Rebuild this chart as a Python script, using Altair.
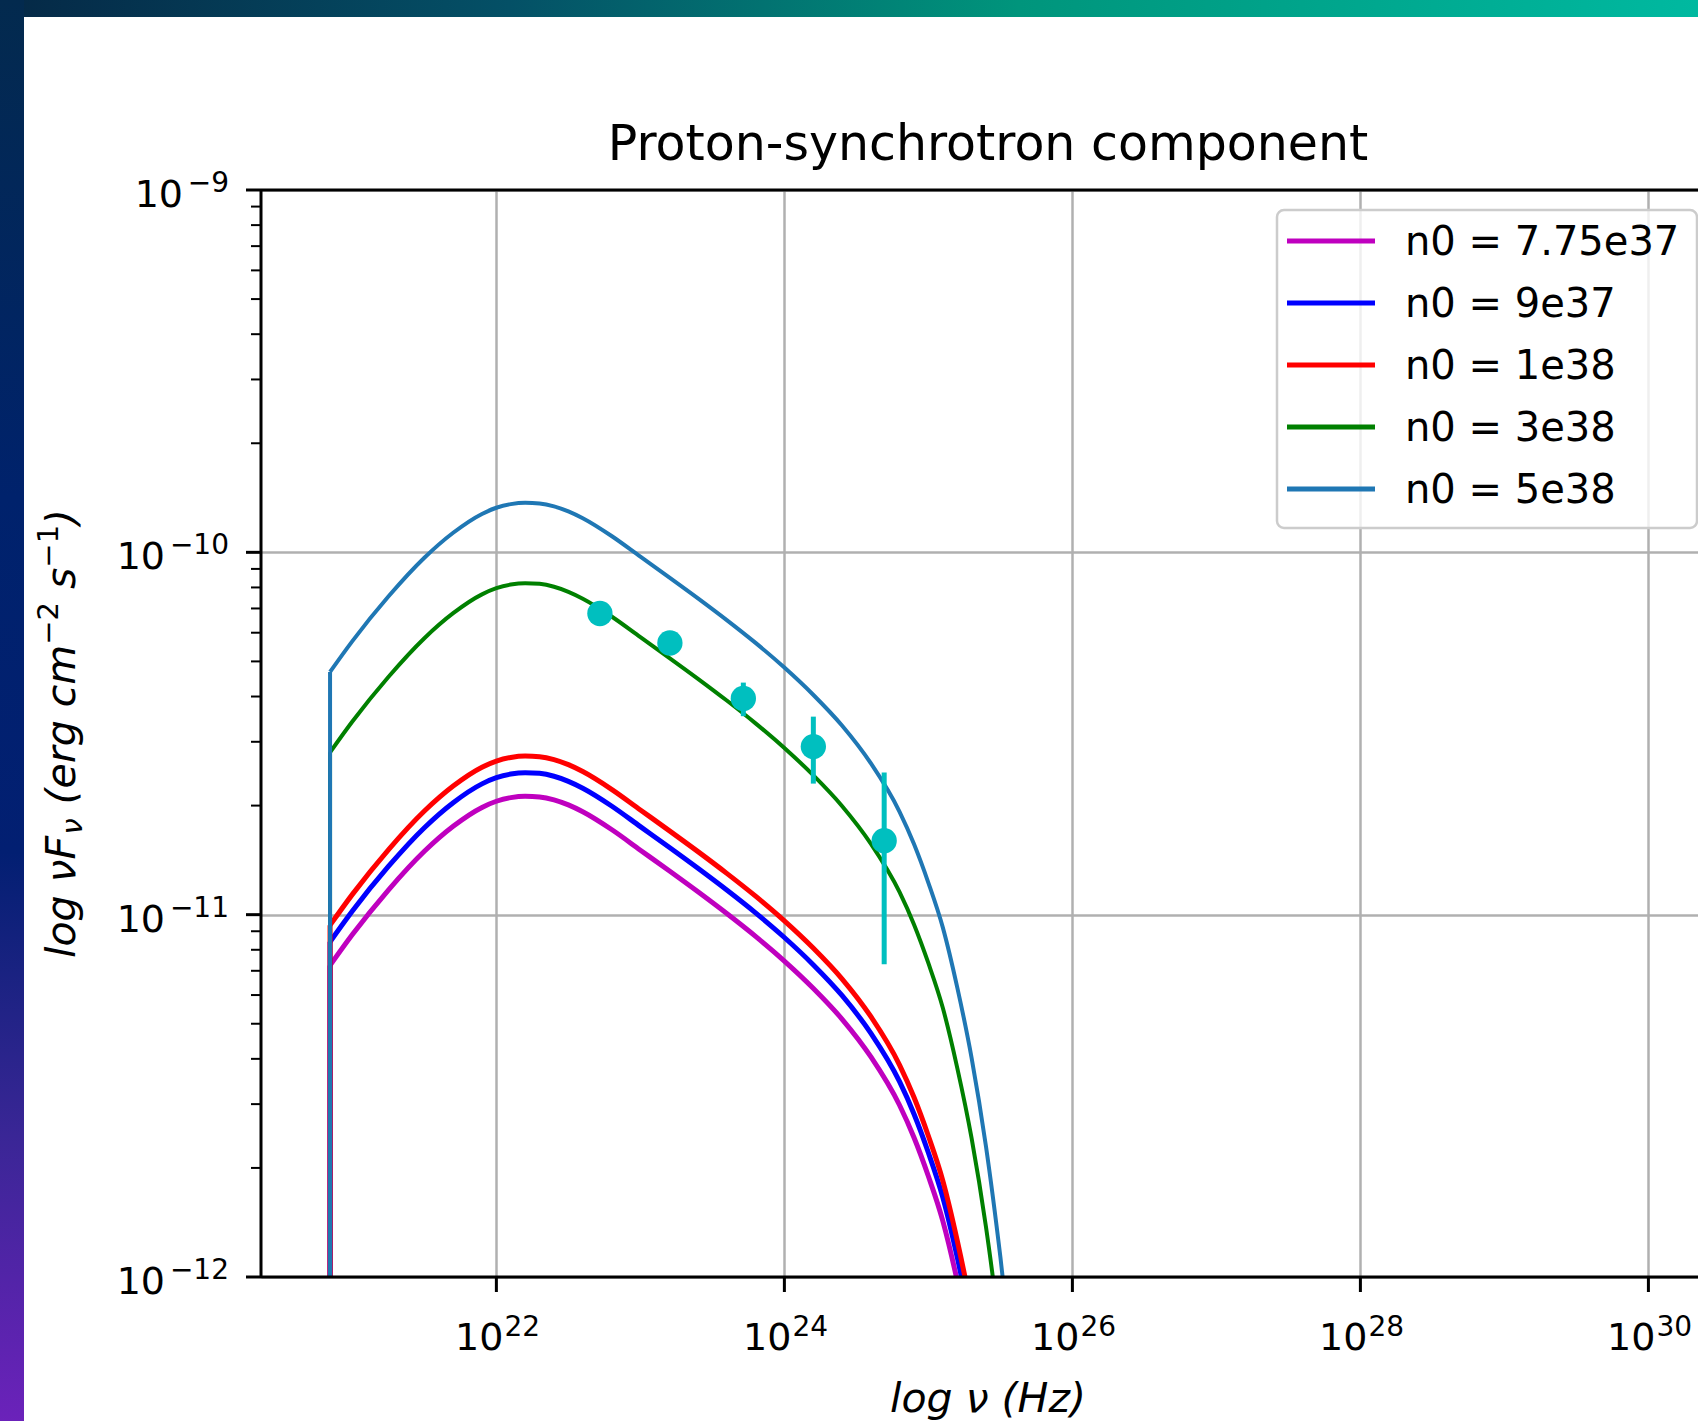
import altair as alt
import pandas as pd

# ---------------- data (as log10 values on the log axes) ----------------
log_nu = [20.845, 21.0, 21.25, 21.5, 21.7, 21.9, 22.0, 22.1, 22.2, 22.3,
          22.4, 22.5, 22.6, 22.8, 23.0, 23.2, 23.4, 23.6, 23.8, 24.0,
          24.2, 24.4, 24.6, 24.8, 24.9, 25.0, 25.1, 25.2, 25.3, 25.4,
          25.5, 25.6, 25.7, 25.8]

log_f_775e37 = [-11.140, -11.055, -10.932, -10.825, -10.756, -10.704, -10.687, -10.677, -10.673, -10.675,
                -10.683, -10.697, -10.716, -10.765, -10.822, -10.879, -10.937, -10.997, -11.060, -11.128,
                -11.203, -11.288, -11.392, -11.526, -11.615, -11.722, -11.845, -12.010, -12.205, -12.450,
                -12.755, -13.110, -13.510, -13.960]
log_f_9e37 = [-11.075, -10.990, -10.867, -10.760, -10.691, -10.639, -10.622, -10.612, -10.608, -10.610,
              -10.618, -10.632, -10.651, -10.700, -10.757, -10.814, -10.872, -10.932, -10.995, -11.063,
              -11.138, -11.223, -11.327, -11.461, -11.550, -11.657, -11.780, -11.945, -12.140, -12.385,
              -12.690, -13.045, -13.445, -13.895]
log_f_1e38 = [-11.029, -10.944, -10.821, -10.714, -10.645, -10.593, -10.576, -10.566, -10.562, -10.564,
              -10.572, -10.586, -10.605, -10.654, -10.711, -10.768, -10.826, -10.886, -10.949, -11.017,
              -11.092, -11.177, -11.281, -11.415, -11.504, -11.611, -11.734, -11.899, -12.094, -12.339,
              -12.644, -12.999, -13.399, -13.849]
log_f_3e38 = [-10.552, -10.467, -10.344, -10.237, -10.168, -10.116, -10.099, -10.089, -10.085, -10.087,
              -10.095, -10.109, -10.128, -10.177, -10.234, -10.291, -10.349, -10.409, -10.472, -10.540,
              -10.615, -10.700, -10.804, -10.938, -11.027, -11.134, -11.257, -11.422, -11.617, -11.862,
              -12.167, -12.522, -12.922, -13.372]
log_f_5e38 = [-10.330, -10.245, -10.122, -10.015, -9.946, -9.894, -9.877, -9.867, -9.863, -9.865,
              -9.873, -9.887, -9.906, -9.955, -10.012, -10.069, -10.127, -10.187, -10.250, -10.318,
              -10.393, -10.478, -10.582, -10.716, -10.805, -10.912, -11.035, -11.200, -11.395, -11.640,
              -11.945, -12.300, -12.700, -13.150]
flux_floor = 1e-15  # the curves start from (practically) zero at the lowest frequency

series_labels = ["n0 = 7.75e37", "n0 = 9e37", "n0 = 1e38", "n0 = 3e38", "n0 = 5e38"]
series_colors = ["#bf00bf", "#0000ff", "#ff0000", "#008000", "#1f77b4"]
series_logf = [log_f_775e37, log_f_9e37, log_f_1e38, log_f_3e38, log_f_5e38]

pt_nu = [5.236e22, 1.603e23, 5.188e23, 1.589e24, 4.932e24]
pt_flux = [6.78e-11, 5.62e-11, 3.95e-11, 2.91e-11, 1.60e-11]
pt_err = [0.20e-11, 0.25e-11, 0.42e-11, 0.61e-11, 0.87e-11]

x_tick_vals = [1e22, 1e24, 1e26, 1e28, 1e30]
x_tick_exp = ["22", "24", "26", "28", "30"]
y_tick_vals = [1e-12, 1e-11, 1e-10, 1e-9]
y_tick_exp = ["\u221212", "\u221211", "\u221210", "\u22129"]
minor_mantissas = [2, 3, 4, 5, 6, 7, 8, 9]

title_text = "Proton-synchrotron component"
x_title = "log \u03bd (Hz)"
NB = "\u00a0"
# y title pieces: (text, kind, space before it)
y_title_pieces = [("log" + NB + "\u03bdF", "main", 0), ("\u03bd", "sub", 0), ("(erg" + NB + "cm", "main", 1),
                  ("\u22122", "sup", 0), ("s", "main", 1), ("\u22121", "sup", 0), (")", "main", 0)]

# ---------------- layout ----------------
W, H = 1437, 1087
FONT = "DejaVu Sans"
GRID = "#b0b0b0"
CYAN = "#00bfbf"

xscale = alt.Scale(type="log", domain=[2.32e20, 2.21e30], nice=False)
yscale = alt.Scale(type="log", domain=[1e-12, 1e-9], nice=False)
xaxis = alt.Axis(values=x_tick_vals, grid=True, gridColor=GRID, gridWidth=2.5,
                 domain=False, ticks=False, labels=False, title=None)
yaxis = alt.Axis(values=y_tick_vals, grid=True, gridColor=GRID, gridWidth=2.5,
                 domain=False, ticks=False, labels=False, title=None)

X = lambda f: alt.X(f, type="quantitative", scale=xscale, axis=xaxis)
Y = lambda f: alt.Y(f, type="quantitative", scale=yscale, axis=yaxis)

one = pd.DataFrame({"a": [0]})
layers = []

# curves
widths = [5, 5, 5, 4, 4]
nu = [10 ** v for v in log_nu]
for lab, col, lf, sw in zip(series_labels, series_colors, series_logf, widths):
    fl = [10 ** v for v in lf]
    d = pd.DataFrame({"nu": nu, "flux": fl})
    layers.append(
        alt.Chart(d).mark_line(color=col, strokeWidth=sw, clip=True, interpolate="monotone").encode(
            x=X("nu"), y=Y("flux"))
    )
    d0 = pd.DataFrame({"nu": [nu[0]], "flux": [fl[0]], "floor": [flux_floor]})
    layers.append(
        alt.Chart(d0).mark_rule(color=col, strokeWidth=sw, clip=True).encode(
            x=X("nu"), y=Y("flux"), y2="floor:Q")
    )

# data points with error bars
pts = pd.DataFrame({"nu": pt_nu, "flux": pt_flux, "err": pt_err})
layers.append(
    alt.Chart(pts).transform_calculate(lo="datum.flux - datum.err", hi="datum.flux + datum.err")
    .mark_rule(color=CYAN, strokeWidth=5, clip=True)
    .encode(x=X("nu"), y=Y("lo"), y2="hi:Q")
)
layers.append(
    alt.Chart(pts).mark_circle(color=CYAN, size=640, opacity=1).encode(x=X("nu"), y=Y("flux"))
)

# spines
for enc in [
    dict(x=alt.value(0), x2=alt.value(W), y=alt.value(0)),
    dict(x=alt.value(0), x2=alt.value(W), y=alt.value(H)),
    dict(x=alt.value(0), y=alt.value(0), y2=alt.value(H)),
]:
    layers.append(alt.Chart(one).mark_rule(color="black", strokeWidth=3).encode(**enc))

# ticks
xt = pd.DataFrame({"v": x_tick_vals, "e": x_tick_exp})
yt = pd.DataFrame({"v": y_tick_vals, "e": y_tick_exp})
ym = pd.DataFrame({"v": [m * d for d in [1e-12, 1e-11, 1e-10] for m in minor_mantissas]})
layers.append(alt.Chart(xt).mark_rule(color="black", strokeWidth=3).encode(
    x=X("v"), y=alt.value(H), y2=alt.value(H + 15)))
layers.append(alt.Chart(yt).mark_rule(color="black", strokeWidth=3).encode(
    y=Y("v"), x=alt.value(-15), x2=alt.value(0)))
layers.append(alt.Chart(ym).mark_rule(color="black", strokeWidth=2).encode(
    y=Y("v"), x=alt.value(-10), x2=alt.value(0)))

# x tick labels 10^n
layers.append(alt.Chart(xt).mark_text(font=FONT, fontSize=38, align="right", baseline="alphabetic",
                                      dx=7, color="black").encode(
    x=X("v"), y=alt.value(H + 73), text=alt.value("10")))
layers.append(alt.Chart(xt).mark_text(font=FONT, fontSize=28, align="left", baseline="alphabetic",
                                      dx=8, color="black").encode(
    x=X("v"), y=alt.value(H + 59), text="e:N"))

# y tick labels 10^n
for v, e in zip(y_tick_vals, y_tick_exp):
    d = pd.DataFrame({"v": [v], "e": [e]})
    base_x = -78 if len(e) == 2 else -96
    layers.append(alt.Chart(d).mark_text(font=FONT, fontSize=38, align="right", baseline="alphabetic",
                                         dy=17, color="black").encode(
        y=Y("v"), x=alt.value(base_x), text=alt.value("10")))
    layers.append(alt.Chart(d).mark_text(font=FONT, fontSize=28, align="right", baseline="alphabetic",
                                         dy=2, color="black").encode(
        y=Y("v"), x=alt.value(-32), text="e:N"))

# titles
layers.append(alt.Chart(one).mark_text(font=FONT, fontSize=49, align="center", baseline="alphabetic",
                                       color="black").encode(
    x=alt.value(727), y=alt.value(-30), text=alt.value(title_text)))
layers.append(alt.Chart(one).mark_text(font=FONT, fontSize=41, fontStyle="italic", align="center",
                                       baseline="middle", color="black").encode(
    x=alt.value(727), y=alt.value(1210), text=alt.value(x_title)))

# y title composed of rotated pieces (reads bottom to top)
EM = {"l": 0.278, "o": 0.612, "g": 0.635, NB: 0.318, "\u03bd": 0.592, "F": 0.575, "(": 0.390,
      "e": 0.615, "r": 0.411, "c": 0.550, "m": 0.974, "s": 0.521, ")": 0.390, "\u2212": 0.838,
      "1": 0.636, "2": 0.636}
MAIN_FS, SCRIPT_FS = 41, 29
base_x = -186
pos = 768
for txt, kind, gap in y_title_pieces:
    fs = MAIN_FS if kind == "main" else SCRIPT_FS
    pos -= gap * 0.318 * MAIN_FS
    shift = {"main": 0, "sub": 7, "sup": -17}[kind]
    style = "normal" if kind == "sup" else "italic"
    layers.append(alt.Chart(one).mark_text(font=FONT, fontSize=fs, fontStyle=style, align="left",
                                           baseline="alphabetic", angle=270, color="black").encode(
        x=alt.value(base_x + shift), y=alt.value(pos), text=alt.value(txt)))
    pos -= sum(EM[ch] for ch in txt) * fs

# legend
layers.append(alt.Chart(one).mark_rect(fill="white", fillOpacity=0.8, stroke="#cccccc",
                                       strokeWidth=2.5, cornerRadius=7).encode(
    x=alt.value(1016), x2=alt.value(1436), y=alt.value(20), y2=alt.value(338)))
for k, (lab, col) in enumerate(zip(series_labels, series_colors)):
    ry = 51 + 62 * k
    layers.append(alt.Chart(one).mark_rule(color=col, strokeWidth=5).encode(
        x=alt.value(1026), x2=alt.value(1114), y=alt.value(ry)))
    layers.append(alt.Chart(one).mark_text(font=FONT, fontSize=40, align="left", baseline="alphabetic",
                                           color="black").encode(
        x=alt.value(1144), y=alt.value(ry + 14), text=alt.value(lab)))

# decorative gradient frame (top and left bands)
top_grad = alt.LinearGradient(gradient="linear", x1=0, y1=0, x2=1, y2=0, stops=[
    alt.GradientStop(color="#052846", offset=0),
    alt.GradientStop(color="#045066", offset=0.3),
    alt.GradientStop(color="#00957c", offset=0.6),
    alt.GradientStop(color="#00b9a0", offset=1)])
left_grad = alt.LinearGradient(gradient="linear", x1=0, y1=0, x2=0, y2=1, stops=[
    alt.GradientStop(color="#032a4e", offset=0),
    alt.GradientStop(color="#00226c", offset=0.35),
    alt.GradientStop(color="#021f72", offset=0.6),
    alt.GradientStop(color="#3a2696", offset=0.8),
    alt.GradientStop(color="#6b22ba", offset=1)])
layers.append(alt.Chart(one).mark_rect(color=top_grad).encode(
    x=alt.value(-261), x2=alt.value(W), y=alt.value(-190), y2=alt.value(-173)))
layers.append(alt.Chart(one).mark_rect(color=left_grad).encode(
    x=alt.value(-261), x2=alt.value(-237), y=alt.value(-190), y2=alt.value(1421 - 190)))

chart = alt.layer(*layers).properties(
    width=W, height=H,
    autosize=alt.AutoSizeParams(type="none"),
    padding={"left": 261, "top": 190, "right": 0, "bottom": 144},
    background="white",
).configure_view(stroke=None)

chart.save("out.html", embed_options={"renderer": "svg", "actions": False})
